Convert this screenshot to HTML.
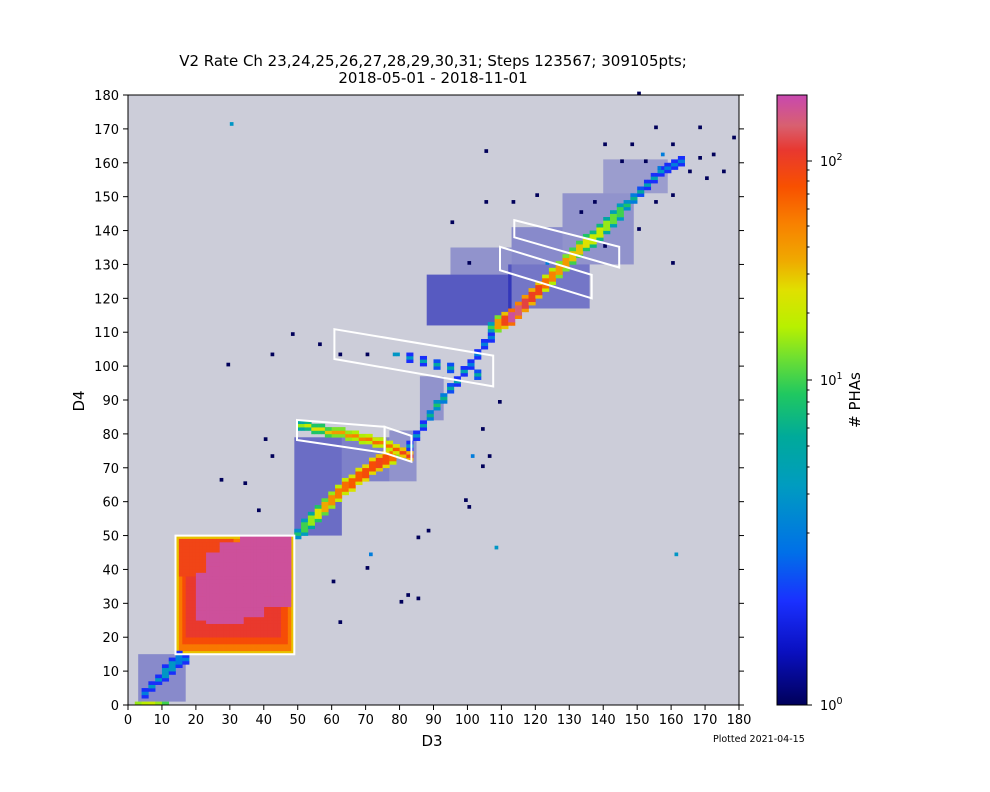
<!DOCTYPE html>
<html><head><meta charset="utf-8"><style>
html,body{margin:0;padding:0;background:#fff;}
svg{display:block;font-family:"DejaVu Sans","Liberation Sans",sans-serif;}
</style></head><body>
<svg id="chart" width="990" height="792" viewBox="0 0 990 792" xmlns="http://www.w3.org/2000/svg">
<text x="433" y="66" font-size="15" text-anchor="middle">V2 Rate Ch 23,24,25,26,27,28,29,30,31; Steps 123567; 309105pts;</text>
<text x="433" y="83" font-size="15" text-anchor="middle">2018-05-01 - 2018-11-01</text>
<rect x="128" y="95" width="611" height="610" fill="#cccdd9"/>
<g id="cells"></g>
<g id="regions"></g>
<rect x="128" y="95" width="611" height="610" fill="none" stroke="#000" stroke-width="1"/>
<g id="xaxis"></g>
<g id="yaxis"></g>
<text x="432" y="746" font-size="15" text-anchor="middle">D3</text>
<text x="84" y="401" font-size="15" text-anchor="middle" transform="rotate(-90 84 401)">D4</text>
<text x="713" y="742" font-size="9.5">Plotted 2021-04-15</text>
<defs><linearGradient id="cbgrad" x1="0" y1="1" x2="0" y2="0"></linearGradient></defs>
<rect x="777" y="95" width="30" height="610" fill="url(#cbgrad)" stroke="#000" stroke-width="1"/>
<g id="cbticks"></g>
<text x="860" y="400" font-size="15" text-anchor="middle" transform="rotate(-90 860 400)"># PHAs</text>
</svg>
<script>
// ---- data ----
const xTicks = [0,10,20,30,40,50,60,70,80,90,100,110,120,130,140,150,160,170,180];
const yTicks = [0,10,20,30,40,50,60,70,80,90,100,110,120,130,140,150,160,170,180];
const cbValues = [1,2,3,4,5,6,7,8,9,10,20,30,40,50,60,70,80,90,100,200];
const cbPos = [0,172,211,238,259,277,291,303,315,325,392,431,458,479,496,511,524,535,544,610];
// box blocks: [x0,y0,x1,y1,count]
const boxBlocks = [
 [14,15,48,49,30],[15,16,47,48,55],[16,18,46,47,80],[17,20,44,46,110],[15,38,30,48,90],
 [20,25,27,38,180],[23,24,33,44,180],[27,26,39,47,180],[33,29,47,49,180],[40,33,47,49,180]
];
// sparse noise regions (non-overlapping): [x0,y0,x1,y1,density]
const haloBlocks = [
 [3,1,16,14,0.35],[49,50,62,78,0.5],[63,66,76,78,0.4],[77,66,84,80,0.3],[86,84,92,96,0.3],
 [88,112,112,126,0.6],[95,127,112,134,0.3],[112,117,135,129,0.45],[113,130,127,140,0.35],[128,130,148,150,0.3],[140,151,158,160,0.25]
];
const band1 = [[49,50,1,8],[51,52,2,10],[53,54,2,15],[55,56,2,25],[57,58,2,35],[59,60,2,45],[61,62,2,55],[63,64,2,60],[65,65,2,70],[67,67,2,70],[69,68,2,80],[71,70,2,80],[73,71,2,90],[75,72,2,80],[77,73,2,60],[79,74,1,40],[81,74,1,30]];
const bandUpper = [[50,82,1,15],[52,82,1,20],[54,81,1,25],[56,81,1,25],[58,80,1,30],[60,80,1,40],[62,80,1,40],[64,79,1,45],[66,79,1,50],[68,78,1,50],[70,78,1,55],[72,77,1,60],[74,77,1,55],[76,76,1,60],[78,75,1,70],[80,74,1,90],[82,73,1,100]];
const band2 = [[82,76,1,3],[84,79,1,3],[86,82,1,4],[88,85,1,6],[90,88,1,8],[92,90,1,6],[94,93,1,5],[96,95,1,4],[98,98,1,3],[100,100,1,2],[102,103,1,2],[104,106,1,2],[106,108,1,2]];
const bandMid = [[78,103,0,3],[82,102,1,3],[86,101,1,4],[90,100,1,5],[94,99,1,5],[98,98,1,4],[102,97,1,5]];
const band3 = [[106,111,1,10],[108,112,2,40],[110,113,2,90],[112,114,2,180],[114,116,2,150],[116,118,2,120],[118,120,2,100],[120,122,2,90],[122,124,2,60],[124,126,2,50],[126,128,2,40],[128,130,2,40],[130,132,2,30],[132,134,2,30],[134,136,2,25],[136,137,2,20],[138,139,2,20],[140,141,2,15],[142,143,2,12],[144,145,2,10],[146,147,1,8],[148,149,1,6],[150,151,1,5],[152,153,1,4],[154,155,1,4],[156,157,1,3],[158,158,1,2],[160,159,1,2],[162,160,1,2]];
const band0 = [[4,3,1,2],[6,5,1,3],[8,7,1,3],[10,9,2,3],[12,11,2,3],[14,13,2,2],[16,13,1,2]];
const bottomRow = [[2,0,0,15],[4,0,0,18],[6,0,0,20],[8,0,0,15],[10,0,0,10]];
const points = [[30,171,3],[161,44,3],[108,46,3],[29,100,1],[42,103,1],[71,44,2],[70,40,1],[60,36,1],[62,24,1],[80,30,1],[82,32,1],[85,31,1],[88,51,1],[99,60,1],[100,58,1],[104,70,1],[101,73,2],[106,73,1],[104,81,1],[109,89,1],[85,49,1],[40,78,1],[42,73,1],[34,65,1],[27,66,1],[38,57,1],[48,109,1],[56,106,1],[62,103,1],[70,103,1],[95,142,1],[100,130,1],[105,163,1],[105,148,1],[113,148,1],[123,130,2],[150,180,1],[155,170,1],[160,165,1],[168,170,1],[172,162,1],[178,167,1],[170,155,1],[175,157,1],[165,157,1],[168,161,1],[145,160,1],[148,165,1],[152,160,1],[140,165,1],[137,148,1],[133,145,1],[120,150,1],[150,140,1],[155,148,1],[160,150,1],[156,158,2],[157,162,2],[140,135,1],[160,130,1]];
const regionBox = [[14,15],[49,15],[49,50],[14,50]];
const regionA = [[49.8,84.1],[75.6,82.1],[75.6,74.4],[49.8,78.2]];
const regionB = [[75.6,82.1],[83.5,79.4],[83.5,71.8],[75.6,74.4]];
const regionC = [[60.8,110.9],[107.6,103.1],[107.6,94],[60.8,102.1]];
const regionD = [[109.6,135.2],[136.6,126.9],[136.6,120],[109.6,128.3]];
const regionE = [[113.8,143.1],[144.7,135.2],[144.7,129.1],[113.8,138]];

// ---- scales ----
const X0=128, X1=739, Y0=705, Y1=95;
const xs = v => X0 + v*(X1-X0)/180;
const ys = v => Y0 - v*(Y0-Y1)/180;
const stops = [[0,"#00005a"],[0.087,"#0a10c0"],[0.17,"#1a30ff"],[0.25,"#0070e8"],[0.36,"#009cc0"],[0.44,"#00aa9a"],[0.51,"#20c860"],[0.57,"#70e030"],[0.62,"#b8f000"],[0.68,"#e0e000"],[0.73,"#f0a800"],[0.79,"#f88000"],[0.85,"#f85000"],[0.91,"#e83830"],[0.95,"#d86070"],[1,"#c848b0"]];
function cbp(v){
  if(v<=cbValues[0]) return 0;
  for(let i=1;i<cbValues.length;i++){
    if(v<=cbValues[i]){
      const a=Math.log(cbValues[i-1]),b=Math.log(cbValues[i]);
      return cbPos[i-1]+(Math.log(v)-a)/(b-a)*(cbPos[i]-cbPos[i-1]);
    }
  }
  return 610;
}
function hex(h){return [1,3,5].map(i=>parseInt(h.substr(i,2),16));}
function colorAt(f){
  f=Math.max(0,Math.min(1,f));
  for(let i=1;i<stops.length;i++){
    if(f<=stops[i][0]){
      const t=(f-stops[i-1][0])/(stops[i][0]-stops[i-1][0]);
      const a=hex(stops[i-1][1]),b=hex(stops[i][1]);
      return "rgb("+a.map((c,k)=>Math.round(c+(b[k]-c)*t)).join(",")+")";
    }
  }
  return stops[stops.length-1][1];
}
const colorOf = v => colorAt(cbp(v)/610);
const NS="http://www.w3.org/2000/svg";
const cellsG=document.getElementById('cells');
function cell(cx,cy,v,op){
  const r=document.createElementNS(NS,'rect');
  r.setAttribute('x',xs(cx).toFixed(2));
  r.setAttribute('y',ys(cy+1).toFixed(2));
  r.setAttribute('width',(xs(cx+1)-xs(cx)+0.3).toFixed(2));
  r.setAttribute('height',(ys(cy)-ys(cy+1)+0.3).toFixed(2));
  r.setAttribute('fill',colorOf(v));
  if(op) r.setAttribute('opacity',op);
  
  
  cellsG.appendChild(r);
}
haloBlocks.forEach(b=>{
  const r=document.createElementNS(NS,'rect');
  r.setAttribute('x',xs(b[0]).toFixed(2));
  r.setAttribute('y',ys(b[3]+1).toFixed(2));
  r.setAttribute('width',(xs(b[2]+1)-xs(b[0])).toFixed(2));
  r.setAttribute('height',(ys(b[1])-ys(b[3]+1)).toFixed(2));
  r.setAttribute('fill',colorOf(1.2));
  r.setAttribute('opacity',b[4]);
  
  
  cellsG.appendChild(r);
});
boxBlocks.forEach(b=>{for(let x=b[0];x<=b[2];x++)for(let y=b[1];y<=b[3];y++)cell(x,y,b[4]);});
function drawBand(arr){
  arr.forEach(c=>{
    for(let dx=0;dx<2;dx++)for(let dy=-c[2];dy<=c[2];dy++){
      const v = Math.abs(dy)===c[2] && c[2]>0 ? Math.max(1.5,c[3]/3) : c[3];
      cell(c[0]+dx,c[1]+dy,v);
    }
  });
}
[band0,bottomRow,band1,bandUpper,band2,bandMid,band3].forEach(drawBand);
points.forEach(p=>cell(p[0],p[1],p[2]));

const regG=document.getElementById('regions');
[regionBox,regionA,regionB,regionC,regionD,regionE].forEach(poly=>{
  const p=document.createElementNS(NS,'polygon');
  p.setAttribute('points',poly.map(q=>xs(q[0]).toFixed(1)+","+ys(q[1]).toFixed(1)).join(" "));
  p.setAttribute('fill','none');p.setAttribute('stroke','#fff');p.setAttribute('stroke-width','2');
  
  
  regG.appendChild(p);
});

const xg=document.getElementById('xaxis'), yg=document.getElementById('yaxis');
function line(g,x1,y1,x2,y2,name){const l=document.createElementNS(NS,'line');l.setAttribute('x1',x1);l.setAttribute('y1',y1);l.setAttribute('x2',x2);l.setAttribute('y2',y2);l.setAttribute('stroke','#000');
 
 
 g.appendChild(l);}
function text(g,x,y,s,anchor,size,name){const t=document.createElementNS(NS,'text');t.setAttribute('x',x);t.setAttribute('y',y);t.setAttribute('text-anchor',anchor);t.setAttribute('font-size',size);t.textContent=s;
 
 
 g.appendChild(t);return t;}
xTicks.forEach(v=>{const x=xs(v);line(xg,x,705,x,710,'x-tick');text(xg,x,724,String(v),'middle',13,'x-tick-label');});
yTicks.forEach(v=>{const y=ys(v);line(yg,123,y,128,y,'y-tick');line(yg,739,y,744,y,'y-tick-right');text(yg,119,y+5,String(v),'end',13,'y-tick-label');});

const grad=document.getElementById('cbgrad');
stops.forEach(s=>{const st=document.createElementNS(NS,'stop');st.setAttribute('offset',s[0]);st.setAttribute('stop-color',s[1]);grad.appendChild(st);});
const cg=document.getElementById('cbticks');
cbValues.forEach((v,i)=>{
  if(v>100) return;
  const y=705-cbPos[i];
  const major=(v===1||v===10||v===100);
  line(cg,807,y,major?812:809.5,y,'colorbar-tick');
  if(major){
    const e=Math.round(Math.log10(v));
    const t=text(cg,820,y+5,'10','start',13,'colorbar-tick-label');
    const sup=document.createElementNS(NS,'tspan');sup.setAttribute('dy','-6');sup.setAttribute('font-size','9.5');sup.textContent=String(e);t.appendChild(sup);
  }
});
</script>
</body></html>
